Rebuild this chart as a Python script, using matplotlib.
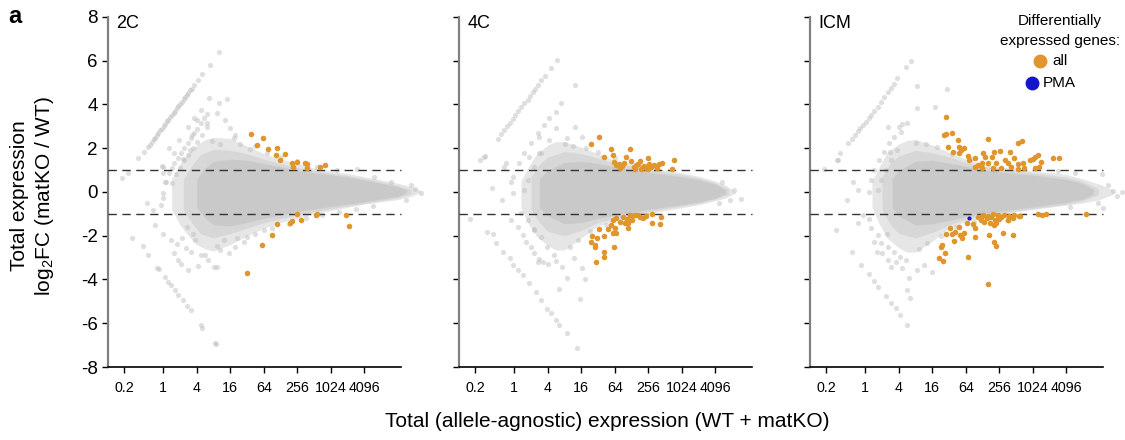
import numpy as np
import matplotlib
matplotlib.use('Agg')
import matplotlib.pyplot as plt
from matplotlib.ticker import NullLocator

plt.rcParams['font.family'] = ['Liberation Sans', 'DejaVu Sans']
plt.rcParams['mathtext.fontset'] = 'custom'
plt.rcParams['mathtext.rm'] = 'Liberation Sans'
plt.rcParams['mathtext.it'] = 'Liberation Sans:italic'

# x values are log2(total expression), y is log2FC
panel_names = ['2C', '4C', 'ICM']
xtick_vals = [0.2, 1, 4, 16, 64, 256, 1024, 4096]
xtick_labels = ['0.2', '1', '4', '16', '64', '256', '1024', '4096']
ytick_vals = [-8, -6, -4, -2, 0, 2, 4, 6, 8]

# --- 2C ---  (cloud envelopes: outer sparse, middle, dense core)
c2_outer_lx = [0.5, 1.0, 1.5, 2.0, 2.5, 3.0, 4.0, 5.0, 6.0, 7.0, 8.0, 9.0, 10.0, 11.0, 12.0, 13.0, 14.0, 14.8, 15.4]
c2_outer_hi = [0.6, 1.3, 1.8, 2.15, 2.4, 2.5, 2.45, 2.1, 1.75, 1.5, 1.3, 1.1, 0.95, 0.85, 0.7, 0.55, 0.4, 0.25, 0.05]
c2_outer_lo = [-0.8, -1.5, -2.0, -2.4, -2.6, -2.7, -2.4, -2.0, -1.65, -1.4, -1.2, -1.0, -0.85, -0.7, -0.55, -0.45, -0.35, -0.2, 0.0]
c2_mid_lx = [1.2, 1.7, 2.2, 3.0, 4.0, 5.0, 6.0, 7.0, 8.0, 9.0, 10.0, 11.0, 12.0, 13.0, 14.0, 14.8]
c2_mid_hi = [0.6, 1.2, 1.7, 1.95, 1.9, 1.75, 1.5, 1.3, 1.12, 0.98, 0.86, 0.76, 0.62, 0.47, 0.3, 0.12]
c2_mid_lo = [-0.8, -1.4, -1.9, -2.1, -1.9, -1.65, -1.4, -1.22, -1.05, -0.9, -0.76, -0.64, -0.52, -0.4, -0.27, -0.08]
c2_core_lx = [2.0, 2.5, 3.0, 4.0, 5.0, 6.0, 7.0, 8.0, 9.0, 10.0, 11.0, 12.0, 13.0, 14.0, 14.5]
c2_core_hi = [0.6, 1.1, 1.4, 1.5, 1.45, 1.3, 1.15, 1.0, 0.88, 0.78, 0.68, 0.55, 0.4, 0.24, 0.1]
c2_core_lo = [-0.7, -1.2, -1.5, -1.55, -1.4, -1.2, -1.05, -0.9, -0.78, -0.66, -0.56, -0.45, -0.32, -0.2, -0.05]
c2_grey = [
    (-2.47, 0.64), (-2.1, 0.86), (-1.5, 1.55), (-1.16, 1.84), (-0.9, 2.07), (-0.82, 2.13), (-0.7, 2.27),
    (-0.58, 2.4), (-0.5, 2.48), (-0.38, 2.61), (-0.3, 2.7), (-0.18, 2.83), (-0.1, 2.9), (0.02, 3.02),
    (0.1, 3.1), (0.22, 3.23), (0.3, 3.3), (0.41, 3.42), (0.5, 3.5), (0.62, 3.63), (0.7, 3.72), (0.81, 3.83),
    (0.9, 3.92), (1.02, 4.04), (1.1, 4.12), (1.21, 4.24), (1.3, 4.32), (1.42, 4.45), (1.5, 4.52),
    (1.61, 4.64), (1.7, 4.72), (1.85, 4.9), (2.05, 5.1), (2.33, 5.4), (2.78, 5.8), (3.3, 6.4),
    (-0.02, -0.05), (0.18, 0.47), (0.37, 0.85), (0.55, 1.1), (0.67, 1.31), (0.85, 1.55), (1.06, 1.77),
    (1.25, 2.0), (1.45, 2.22), (1.65, 2.45), (1.82, 2.69), (2.0, 2.9), (2.24, 3.15), (2.45, 3.4), (2.6, 3.55),
    (0.5, 0.4), (0.75, 0.8), (1.0, 1.1), (1.25, 1.45), (1.5, 1.7), (1.75, 2.0), (2.0, 2.3), (2.3, 2.6), (2.63, 2.99),
    (2.72, 4.28), (3.8, 4.24), (2.24, 3.75), (3.3, 4.05), (1.84, 3.37), (-0.06, 1.2), (-0.02, 0.85),
    (0.37, 2.0), (0.67, 1.77), (0.96, 2.38), (1.45, 2.99), (1.74, 2.6), (2.04, 3.3), (2.63, 3.14),
    (3.22, 3.63), (3.7, 3.29), (4.0, 2.91), (4.3, 2.6), (0.0, 1.16), (0.08, 0.47),
    (-1.0, -0.52), (-0.5, -1.51), (-0.12, -0.59), (-0.02, -0.29), (-0.6, -0.82), (-1.2, -2.47), (0.0, -1.92),
    (-1.88, -2.12), (-0.9, -2.88), (-0.35, -3.48), (-0.28, -3.52), (0.08, -3.87), (0.3, -4.1), (0.47, -4.25),
    (0.71, -4.48), (0.9, -4.7), (1.16, -4.94), (1.4, -5.2), (1.65, -5.39), (2.24, -6.08), (2.33, -6.2),
    (3.06, -6.9), (3.14, -6.95),
    (0.67, -2.8), (0.86, -3.1), (1.06, -3.3), (1.45, -3.57), (1.35, -2.58), (1.65, -2.73), (2.08, -3.38),
    (3.02, -3.41), (3.18, -3.41), (2.24, -2.88), (3.4, -2.65), (3.9, -2.8), (0.45, -2.2), (0.8, -2.4),
    (1.1, -2.1), (1.9, -2.2), (2.5, -2.9), (2.7, -3.1), (4.3, -2.5), (4.8, -2.3),
    (14.8, 0.32), (15.37, -0.03), (12.6, 0.7), (11.55, 1.04), (14.5, -0.35), (13.6, 0.45), (15.0, 0.15),
    (5.5, 2.1), (6.2, 1.8), (7.0, 1.6), (8.0, 1.4), (9.2, 1.15), (10.4, 1.0), (5.5, -1.9), (6.5, -1.65),
    (7.5, -1.45), (8.5, -1.2), (9.5, -1.05), (10.5, -0.9), (11.5, -0.8), (12.5, -0.65),
    (2.9, 2.35), (3.4, 2.2), (4.2, 2.45), (4.6, 2.2), (5.2, 1.95), (3.2, -2.45), (3.6, -2.2), (4.4, -2.1),
    (5.0, -2.05), (6.0, -1.75), (1.8, -1.9), (1.4, -1.6), (1.2, 1.5), (1.6, 1.9),
]
c2_de = [
    (5.22, 2.65), (5.98, 2.45), (5.57, 2.16), (6.24, 1.98), (6.8, 2.01), (6.74, 1.69), (7.25, 1.75),
    (6.98, 1.46), (7.69, 1.33), (7.98, 1.37), (7.76, 1.16), (8.45, 1.34), (8.59, 1.26), (8.57, 1.08),
    (9.35, 1.13), (9.67, 1.22),
    (7.98, -1.02), (7.69, -1.31), (7.55, -1.43), (8.2, -1.3), (6.78, -1.45), (6.47, -1.95), (5.88, -2.41),
    (9.12, -1.07), (9.2, -1.0), (10.9, -1.07), (11.06, -1.55), (4.98, -3.69),
]

# --- 4C ---
c4_outer_lx = [0.4, 0.8, 1.3, 2.0, 2.5, 3.0, 4.0, 5.0, 6.0, 7.0, 8.0, 9.0, 10.0, 11.0, 12.0, 12.6, 13.2]
c4_outer_hi = [0.5, 1.1, 1.7, 2.15, 2.3, 2.3, 2.05, 1.75, 1.45, 1.3, 1.15, 1.0, 0.88, 0.72, 0.5, 0.32, 0.0]
c4_outer_lo = [-0.7, -1.4, -2.0, -2.45, -2.65, -2.65, -2.1, -1.55, -1.3, -1.15, -1.0, -0.85, -0.72, -0.58, -0.4, -0.28, -0.05]
c4_mid_lx = [1.0, 1.5, 2.0, 3.0, 4.0, 5.0, 6.0, 7.0, 8.0, 9.0, 10.0, 11.0, 12.0, 12.8]
c4_mid_hi = [0.7, 1.25, 1.6, 1.85, 1.75, 1.55, 1.32, 1.18, 1.03, 0.9, 0.8, 0.64, 0.42, 0.12]
c4_mid_lo = [-0.8, -1.4, -1.8, -2.0, -1.75, -1.4, -1.18, -1.03, -0.9, -0.76, -0.64, -0.52, -0.33, -0.1]
c4_core_lx = [1.5, 2.0, 3.0, 4.0, 5.0, 6.0, 7.0, 8.0, 9.0, 10.0, 11.0, 12.0, 12.6]
c4_core_hi = [0.6, 1.0, 1.35, 1.4, 1.3, 1.15, 1.02, 0.9, 0.8, 0.7, 0.56, 0.36, 0.1]
c4_core_lo = [-0.7, -1.1, -1.45, -1.4, -1.2, -1.05, -0.92, -0.8, -0.68, -0.58, -0.46, -0.28, -0.08]
c4_grey = [
    (-2.04, 1.46), (-1.78, 1.62), (-1.72, 1.66), (-1.0, 2.41), (-0.8, 2.64), (-0.6, 2.85), (-0.45, 3.0),
    (-0.27, 3.14), (-0.1, 3.35), (0.06, 3.52), (0.2, 3.7), (0.41, 3.9), (0.6, 4.05), (0.8, 4.2),
    (0.95, 4.4), (1.1, 4.55), (1.25, 4.72), (1.39, 4.89), (1.6, 5.1), (1.82, 5.3), (2.18, 5.65), (2.57, 6.03),
    (3.65, 4.89), (2.76, 4.05), (2.47, 3.67), (3.65, 2.99), (3.16, 2.45), (4.04, 2.53),
    (1.78, 3.06), (1.39, 2.68), (1.0, 2.22), (0.61, 1.77), (0.31, 1.31), (-0.08, 0.7), (-0.2, 0.47),
    (2.47, 2.91), (2.08, 2.38), (1.59, 1.77), (1.2, 1.16), (0.84, 0.55), (0.61, 0.09), (-0.47, 1.31),
    (-0.6, 1.16), (-1.35, 0.17), (-0.76, -0.37), (-0.08, -0.06), (2.1, 3.4), (1.5, 2.5), (0.9, 1.6),
    (-2.63, -1.23),
    (-1.65, -1.84), (-1.25, -1.92), (-1.1, -2.35), (-0.67, -2.73), (-0.27, -3.03), (-0.08, -3.34),
    (0.22, -3.57), (0.51, -3.79), (0.9, -4.17), (1.29, -4.56), (1.59, -4.94), (1.98, -5.36), (2.2, -5.55),
    (2.47, -5.85), (2.67, -6.08), (3.12, -6.46), (3.75, -7.15),
    (3.9, -4.9), (4.24, -3.99), (2.67, -4.45), (3.12, -3.95), (4.04, -3.49), (3.55, -3.03), (1.39, -3.18),
    (1.69, -3.2), (2.47, -3.15),
    (-0.18, -1.28), (0.22, -1.58), (0.51, -1.97), (0.71, -2.27), (1.0, -2.5), (1.2, -2.8), (0.41, -0.97),
    (0.8, -1.28), (1.2, -1.76), (1.59, -2.04), (1.98, -2.5), (2.37, -2.88), (2.86, -3.41), (1.5, -3.05), (2.0, -3.3),
    (13.55, -0.32), (12.9, -0.37), (13.1, 0.1), (12.4, 0.45), (12.2, -0.5),
    (3.0, 2.2), (3.5, 2.1), (4.3, 2.0), (5.0, 1.85), (6.0, 1.55), (3.3, -2.5), (3.8, -2.2), (4.5, -1.8),
    (5.5, -1.5), (6.4, -1.35), (1.5, 1.8), (1.2, -1.7),
]
c4_de = [
    (5.06, 2.5), (4.57, 2.19), (5.76, 1.98), (6.92, 1.95), (5.37, 1.62), (5.9, 1.69), (5.96, 1.39),
    (6.25, 1.28), (6.53, 1.34), (6.45, 1.19), (6.98, 1.43), (7.12, 1.16), (7.27, 1.23), (7.51, 1.42),
    (7.67, 1.13), (7.86, 1.08), (7.98, 1.54), (8.06, 1.28), (8.18, 1.13), (8.35, 1.23), (8.65, 1.28),
    (8.84, 1.31), (9.43, 1.04), (9.53, 1.45), (7.57, 1.04), (7.76, 1.19), (6.65, 1.62), (6.1, 1.22),
    (6.3, 1.1), (7.4, 1.3), (8.0, 1.05), (8.5, 1.1), (7.2, 1.05),
    (5.9, -1.28), (6.1, -1.2), (6.3, -1.35), (6.5, -1.15), (6.7, -1.25), (6.6, -1.4), (7.0, -1.1),
    (7.2, -1.05), (7.4, -1.05), (7.5, -1.15), (6.8, -1.4), (7.86, -1.1), (8.2, -1.4), (8.75, -1.13),
    (8.7, -1.48), (5.8, -1.51), (6.0, -1.66), (6.78, -1.66), (5.6, -1.69), (5.08, -1.71), (5.35, -2.01),
    (4.94, -2.09), (4.63, -2.01), (5.9, -1.89), (6.1, -1.86), (4.57, -2.29), (4.8, -2.41), (4.82, -2.5),
    (5.94, -2.53), (5.37, -2.73), (5.35, -2.99), (4.88, -3.18), (8.25, -1.0), (7.0, -1.3), (6.9, -1.05),
    (7.7, -1.2),
]

# --- ICM ---
icm_outer_lx = [0.4, 0.8, 1.3, 2.0, 2.5, 3.0, 4.0, 5.0, 6.0, 7.0, 8.0, 9.0, 10.0, 11.0, 12.0, 13.0, 14.0, 14.8]
icm_outer_hi = [0.5, 1.1, 1.8, 2.2, 2.35, 2.4, 2.15, 1.8, 1.5, 1.3, 1.15, 1.05, 0.95, 0.9, 0.8, 0.6, 0.35, 0.1]
icm_outer_lo = [-0.7, -1.4, -2.1, -2.55, -2.75, -2.75, -2.25, -1.65, -1.35, -1.2, -1.05, -0.9, -0.8, -0.7, -0.6, -0.5, -0.35, -0.1]
icm_mid_lx = [1.0, 1.5, 2.0, 3.0, 4.0, 5.0, 6.0, 7.0, 8.0, 9.0, 10.0, 11.0, 12.0, 13.0, 13.9]
icm_mid_hi = [0.7, 1.3, 1.65, 1.9, 1.8, 1.6, 1.35, 1.18, 1.05, 0.95, 0.87, 0.78, 0.68, 0.48, 0.15]
icm_mid_lo = [-0.8, -1.5, -1.9, -2.1, -1.85, -1.5, -1.25, -1.1, -0.97, -0.86, -0.76, -0.66, -0.56, -0.4, -0.12]
icm_core_lx = [1.6, 2.0, 3.0, 4.0, 5.0, 6.0, 7.0, 8.0, 9.0, 10.0, 11.0, 12.0, 13.0, 13.6]
icm_core_hi = [0.6, 1.0, 1.4, 1.45, 1.32, 1.18, 1.02, 0.92, 0.84, 0.77, 0.68, 0.58, 0.38, 0.12]
icm_core_lo = [-0.7, -1.1, -1.5, -1.45, -1.3, -1.12, -0.98, -0.88, -0.78, -0.68, -0.58, -0.48, -0.32, -0.1]
icm_grey = [
    (-2.49, 1.04), (-1.65, 1.46), (-1.51, 1.77), (-1.02, 2.22), (-0.8, 2.42), (-0.63, 2.6), (-0.45, 2.78),
    (-0.33, 2.91), (-0.15, 3.05), (0.06, 3.21), (0.2, 3.38), (0.35, 3.52), (0.55, 3.72), (0.75, 3.9),
    (0.95, 4.12), (1.14, 4.36), (1.33, 4.55), (1.53, 4.74), (1.72, 4.95), (1.92, 5.2), (2.41, 5.73), (2.71, 6.0),
    (3.06, 4.85), (4.86, 4.69), (4.14, 3.87), (3.1, 3.82), (2.51, 3.14), (2.12, 2.76), (1.33, 2.99),
    (1.73, 2.53), (1.43, 2.22), (1.14, 1.84), (0.84, 1.46), (0.55, 1.0), (0.35, 0.55), (0.25, 0.01),
    (1.92, 1.92), (1.53, 1.46), (1.24, 1.0), (0.94, 0.55), (0.75, 0.09), (-0.43, 0.09), (-1.12, -0.37),
    (-1.7, 1.46), (-0.72, 0.47), (2.2, 3.1), (2.0, 2.95),
    (-1.76, -1.74), (-0.78, -2.76), (-0.24, -3.34), (0.2, -3.75), (0.55, -4.07), (0.78, -4.33),
    (1.24, -4.75), (1.53, -5.06), (1.82, -5.32), (2.08, -5.62), (2.51, -6.08),
    (-0.43, -1.43), (-0.14, -1.05), (0.25, -1.25), (0.35, -1.66), (0.78, -1.97), (0.71, -2.73),
    (0.98, -2.8), (1.33, -3.11), (1.53, -3.41), (1.82, -3.18), (2.22, -3.49), (2.61, -3.95), (2.51, -4.48),
    (2.67, -4.83), (2.41, -3.11), (3.1, -3.57), (1.33, -2.5), (1.73, -2.73), (2.1, -2.96), (0.55, -2.27),
    (0.94, -2.35), (3.98, -3.64), (3.49, -3.34),
    (15.3, 0.0), (14.2, -0.75), (14.16, 0.82), (14.8, 0.05), (14.5, 0.3), (13.9, -0.5), (15.0, -0.2),
    (3.0, 2.25), (3.6, 2.2), (4.3, 2.05), (5.2, 1.75), (6.3, 1.5), (3.2, -2.6), (3.7, -2.35), (4.5, -2.0),
    (5.4, -1.6), (6.5, -1.35), (1.5, 1.85), (1.3, -1.9), (11.5, 0.95), (12.5, 0.85), (12.2, -0.7),
]
icm_de = [
    (4.84, 3.41), (4.69, 2.59), (4.84, 2.64), (5.2, 2.68), (7.33, 2.44), (9.1, 2.25), (9.34, 2.31),
    (4.96, 2.04), (5.51, 2.38), (5.24, 1.84), (5.61, 2.04), (5.71, 1.92), (5.92, 2.0), (5.57, 1.77),
    (6.16, 1.66), (6.2, 1.46), (6.55, 1.57), (7.04, 1.77), (7.14, 1.61), (6.98, 1.34), (6.75, 1.23),
    (6.55, 1.13), (7.33, 1.31), (7.69, 1.84), (8.06, 1.86), (7.59, 1.62), (7.82, 1.31), (7.63, 1.08),
    (8.37, 1.46), (8.67, 1.84), (8.51, 1.34), (8.9, 1.54), (8.71, 1.16), (9.1, 1.28), (9.43, 1.34),
    (9.82, 1.46), (10.12, 1.62), (10.33, 1.69), (10.04, 1.49), (10.47, 1.39), (10.37, 1.16), (10.12, 1.08),
    (9.49, 1.08), (11.22, 1.55), (11.55, 1.54), (6.94, 1.08), (8.12, 1.08), (9.1, 1.04),
    (6.75, -1.16), (6.98, -1.1), (7.24, -1.2), (7.53, -1.13), (7.73, -1.28), (7.43, -1.43), (7.92, -1.1),
    (7.82, -1.4), (8.51, -1.28), (9.24, -1.1), (6.45, -1.46), (6.06, -1.43), (6.55, -1.66), (5.57, -1.62),
    (5.08, -1.66), (4.84, -1.94), (5.18, -1.92), (5.37, -1.81), (5.67, -1.97), (5.92, -1.86), (5.8, -2.12),
    (5.27, -2.24), (6.55, -2.04), (7.37, -1.97), (8.22, -1.89), (8.84, -1.98), (7.69, -2.27), (7.82, -2.47),
    (4.61, -2.42), (4.55, -2.5), (4.78, -2.8), (4.41, -3.03), (4.63, -3.14), (6.12, -2.96),
    (10.33, -1.0), (10.57, -1.07), (10.8, -1.0), (13.2, -0.99), (7.31, -4.22), (9.18, -1.08), (8.55, -1.28),
    (7.0, -1.05), (7.3, -1.08), (7.6, -1.02), (7.9, -1.03), (8.1, -1.15), (8.3, -1.05), (8.6, -1.1),
    (8.8, -1.2), (8.9, -1.05), (6.9, -1.3), (7.1, -1.35), (7.7, -1.5), (8.0, -1.25),
]
icm_pma = [(6.18, -1.17)]

grey_col = '#c0c0c0'
de_col = '#E0962C'
pma_col = '#1515CC'
cloud_cols = ['#e6e6e6', '#d7d7d7', '#c9c9c9']

panels = [
    ([(c2_outer_lx, c2_outer_hi, c2_outer_lo), (c2_mid_lx, c2_mid_hi, c2_mid_lo),
      (c2_core_lx, c2_core_hi, c2_core_lo)], c2_grey, c2_de),
    ([(c4_outer_lx, c4_outer_hi, c4_outer_lo), (c4_mid_lx, c4_mid_hi, c4_mid_lo),
      (c4_core_lx, c4_core_hi, c4_core_lo)], c4_grey, c4_de),
    ([(icm_outer_lx, icm_outer_hi, icm_outer_lo), (icm_mid_lx, icm_mid_hi, icm_mid_lo),
      (icm_core_lx, icm_core_hi, icm_core_lo)], icm_grey, icm_de),
]

W, H = 1125, 440
fig = plt.figure(figsize=(W / 100, H / 100), dpi=100)
lefts = [108, 459, 810]
px_per = 16.75
x_lo, x_hi, x_end = -3.3, 15.6, 14.2

axes = []
for i, (clouds, grey, de) in enumerate(panels):
    ax = fig.add_axes([lefts[i] / W, 73 / H, px_per * (x_hi - x_lo) / W, 350 / H])
    axes.append(ax)
    ax.set_xscale('log', base=2)
    ax.set_xlim(2 ** x_lo, 2 ** x_hi)
    ax.set_ylim(-8, 8)

    for (lx, hi, lo), col in zip(clouds, cloud_cols):
        ax.fill_between(np.exp2(lx), lo, hi, color=col, lw=0, zorder=1)
    g = np.array(grey)
    ax.scatter(np.exp2(g[:, 0]), g[:, 1], s=14, color=grey_col, alpha=0.5, lw=0, zorder=3, clip_on=False)
    d = np.array(de)
    ax.scatter(np.exp2(d[:, 0]), d[:, 1], s=16, color=de_col, lw=0, zorder=5)

    for yl in (1, -1):
        ax.plot([2 ** x_lo, 2 ** x_end], [yl, yl], color='#333333', lw=1.0,
                ls=(0, (6, 4)), zorder=4)

    for s in ('top', 'right'):
        ax.spines[s].set_visible(False)
    ax.spines['bottom'].set_bounds(2 ** x_lo, 2 ** x_end)
    ax.spines['bottom'].set_linewidth(1.2)
    ax.spines['left'].set_color('#808080')
    ax.spines['left'].set_linewidth(1.6)
    ax.set_xticks(xtick_vals)
    ax.set_xticklabels(xtick_labels, fontsize=10.3)
    ax.xaxis.set_minor_locator(NullLocator())
    ax.set_yticks(ytick_vals)
    ax.tick_params(axis='both', direction='out', length=4, width=1, color='black')
    ax.tick_params(axis='x', pad=6)
    if i == 0:
        ax.set_yticklabels([str(v) for v in ytick_vals], fontsize=13.5)
    else:
        ax.set_yticklabels([])
    ax.text(0.026, 0.968, panel_names[i], transform=ax.transAxes, fontsize=13,
            va='baseline', ha='left')

p = np.array(icm_pma)
axes[2].scatter(np.exp2(p[:, 0]), p[:, 1], s=9, color=pma_col, lw=0, zorder=6)

# legend block in the ICM panel
fig.text(1060 / W, 1 - 21 / H, 'Differentially', ha='center', va='center', fontsize=11)
fig.text(1060 / W, 1 - 41 / H, 'expressed genes:', ha='center', va='center', fontsize=11)
fig.lines.append(plt.Line2D([1040 / W], [1 - 61 / H], marker='o', ms=9, color=de_col, ls='none',
                            transform=fig.transFigure))
fig.text(1052 / W, 1 - 61 / H, 'all', ha='left', va='center', fontsize=11)
fig.lines.append(plt.Line2D([1032 / W], [1 - 83 / H], marker='o', ms=9, color=pma_col, ls='none',
                            transform=fig.transFigure))
fig.text(1043 / W, 1 - 83 / H, 'PMA', ha='left', va='center', fontsize=11)

fig.text(0.007, 1 - 23 / H, 'a', fontsize=17, fontweight='bold', va='baseline')
fig.text(33 / W, 1 - 196 / H, 'Total expression\nlog$_2$FC (matKO / WT)', rotation=90,
         ha='center', va='center', fontsize=15, multialignment='center', linespacing=1.2)
fig.text(607 / W, 1 - 427 / H, 'Total (allele-agnostic) expression (WT + matKO)',
         ha='center', va='baseline', fontsize=15)

fig.savefig('out.png', dpi=100)
